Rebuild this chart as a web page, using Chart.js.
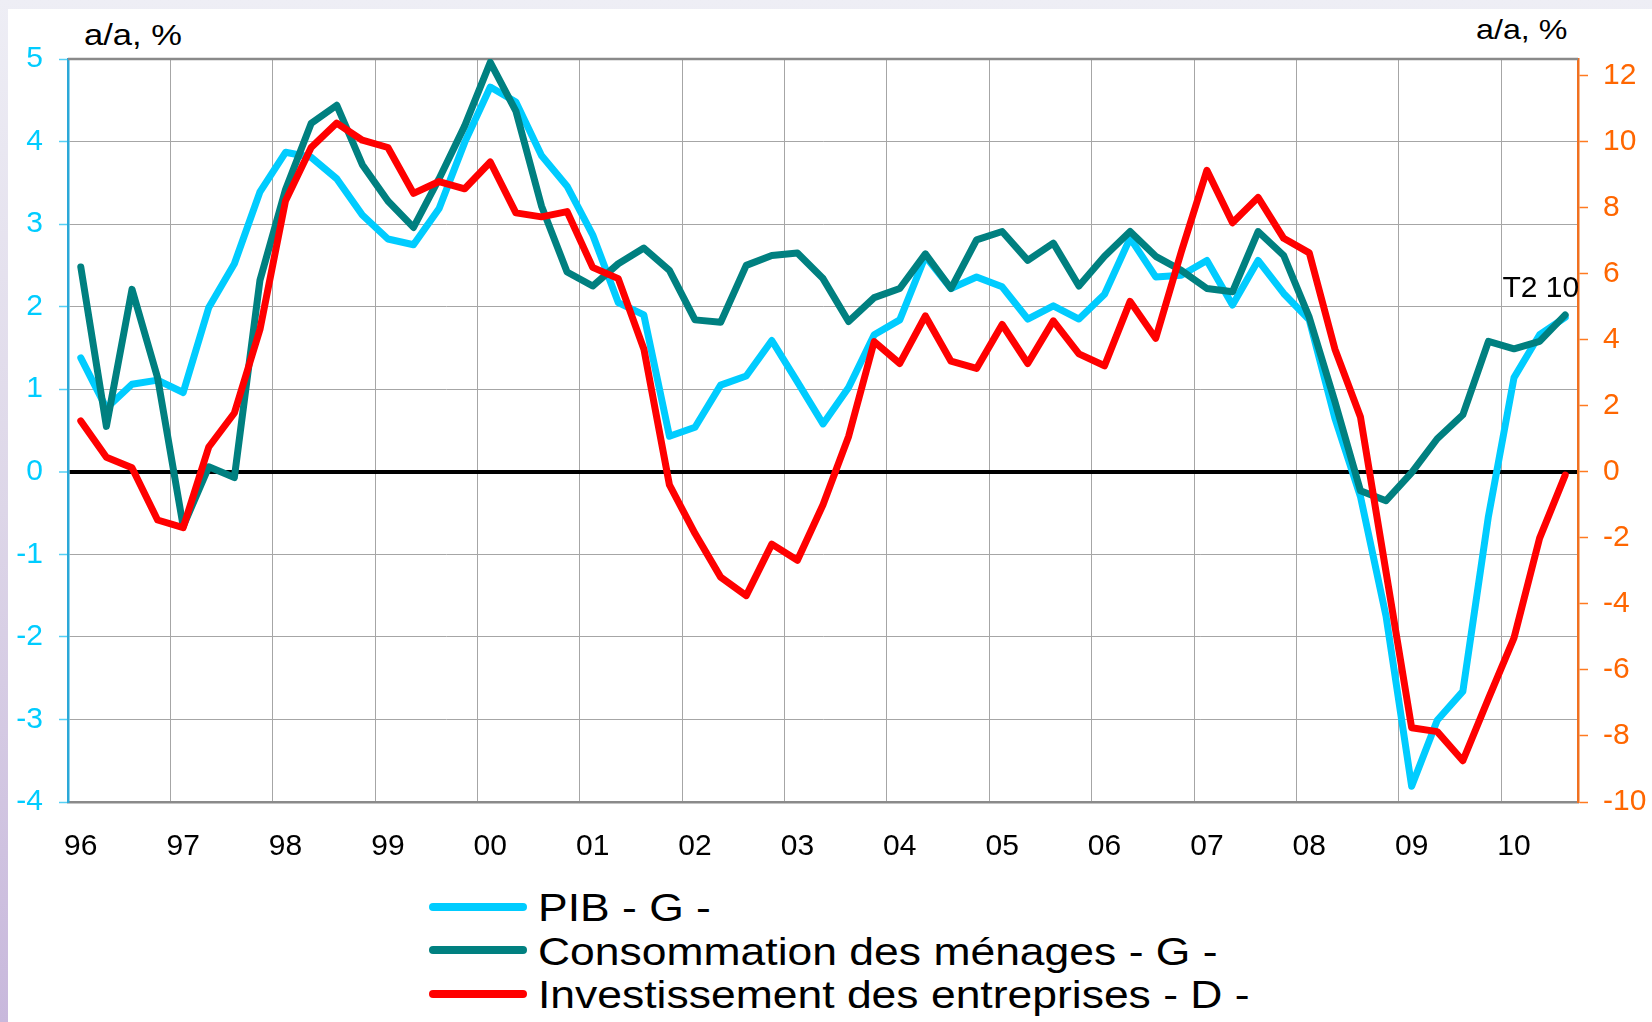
<!DOCTYPE html>
<html>
<head>
<meta charset="utf-8">
<script src="https://cdn.jsdelivr.net/npm/chart.js@4.4.1/dist/chart.umd.min.js"></script>
<style>
  body {
    margin: 0;
    width: 1652px;
    height: 1022px;
    overflow: hidden;
    background: linear-gradient(to bottom, #eeeef5 0%, #ddd6e8 50%, #c8b8dc 100%);
    font-family: 'Liberation Sans', Arial, sans-serif;
  }
  #wrap {
    position: absolute;
    left: 8px;
    top: 9px;
    width: 1644px;
    height: 1013px;
    background: #fff;
  }
  #chart { position: absolute; left: 0; top: 0; }
  .unit {
    position: absolute;
    color: #000;
    white-space: nowrap;
    transform: scaleX(1.15);
  }
  #unitLeft { left: 76px; top: 11px; font-size: 30px; line-height: 30px; transform-origin: left top; }
  #unitRight { right: 85px; top: 7px; font-size: 28px; line-height: 28px; transform-origin: right top; }
  #legend {
    position: absolute;
    left: 421px;
    top: 876px;
  }
  .row {
    display: flex;
    align-items: center;
    height: 43.5px;
  }
  .swatch {
    width: 98px;
    height: 8px;
    border-radius: 4px;
    flex: none;
  }
  .txt {
    margin-left: 11px;
    font-size: 38px;
    line-height: 43.5px;
    position: relative;
    top: 2px;
    white-space: nowrap;
    transform: scaleX(1.17);
    transform-origin: left center;
  }
</style>
</head>
<body>
<div id="wrap">
  <div class="unit" id="unitLeft">a/a, %</div>
  <div class="unit" id="unitRight">a/a, %</div>
  <canvas id="chart" width="1644" height="870"></canvas>
  <div id="legend"></div>
</div>
<script>
// quarterly data, 96 T1 .. 10 T3 (59 points)
const years = ['96', '97', '98', '99', '00', '01', '02', '03', '04', '05', '06', '07', '08', '09', '10'];

// PIB - G - (left axis)
const pib = [1.38, 0.77, 1.06, 1.11, 0.96, 1.99, 2.52, 3.39, 3.87, 3.81,
  3.55, 3.11, 2.82, 2.75, 3.19, 3.99, 4.66, 4.48, 3.83, 3.46,
  2.87, 2.05, 1.90, 0.43, 0.54, 1.05, 1.16, 1.59, 1.09, 0.58,
  1.02, 1.66, 1.84, 2.61, 2.22, 2.36, 2.24, 1.85, 2.01, 1.85,
  2.15, 2.83, 2.36, 2.38, 2.56, 2.02, 2.56, 2.16, 1.84, 0.65,
  -0.30, -1.75, -3.81, -3.01, -2.66, -0.54, 1.14, 1.66, 1.87];

// Consommation des ménages - G - (left axis)
const conso = [2.48, 0.55, 2.21, 1.14, -0.66, 0.06, -0.07, 2.32, 3.42, 4.22,
  4.44, 3.72, 3.28, 2.96, 3.55, 4.19, 4.96, 4.37, 3.22, 2.42,
  2.25, 2.52, 2.71, 2.44, 1.84, 1.81, 2.50, 2.62, 2.65, 2.34,
  1.82, 2.11, 2.22, 2.64, 2.22, 2.81, 2.91, 2.56, 2.77, 2.25,
  2.61, 2.91, 2.61, 2.44, 2.22, 2.18, 2.91, 2.62, 1.87, 0.85,
  -0.23, -0.35, -0.01, 0.40, 0.69, 1.58, 1.49, 1.58, 1.90];

// Investissement des entreprises - D - (right axis)
const invest = [1.54, 0.44, 0.12, -1.46, -1.69, 0.75, 1.78, 4.31, 8.21, 9.82,
  10.56, 10.04, 9.82, 8.43, 8.79, 8.57, 9.38, 7.84, 7.72, 7.88,
  6.19, 5.85, 3.72, -0.40, -1.87, -3.19, -3.75, -2.19, -2.68, -1.00,
  1.07, 3.94, 3.28, 4.72, 3.35, 3.13, 4.46, 3.28, 4.57, 3.57,
  3.21, 5.16, 4.04, 6.66, 9.13, 7.54, 8.31, 7.07, 6.63, 3.72,
  1.66, -3.04, -7.75, -7.87, -8.75, -6.87, -5.03, -2.01, -0.10];

// right axis tick values
const rightTicks = [-10, -8, -6, -4, -2, 0, 2, 4, 6, 8, 10, 12];

const endLabel = 'T2 10';

const quarters = [];
years.forEach(y => {
  for (let q = 1; q <= 4; q++) quarters.push(y + ' T' + q);
});
const labels = quarters.slice(0, pib.length);

Chart.defaults.font.family = "'Liberation Sans', Arial, sans-serif";

// top frame line + end label
const frame = {
  id: 'frame',
  beforeDatasetsDraw(chart) {
    const { ctx, chartArea } = chart;
    ctx.save();
    ctx.strokeStyle = '#8a8a8a';
    ctx.lineWidth = 2.5;
    ctx.beginPath();
    ctx.moveTo(chartArea.left, chartArea.top);
    ctx.lineTo(chartArea.right, chartArea.top);
    ctx.stroke();
    ctx.restore();
  },
  afterDatasetsDraw(chart) {
    const { ctx } = chart;
    const pts = chart.getDatasetMeta(1).data;
    const last = pts[pts.length - 1];
    ctx.save();
    ctx.fillStyle = '#000';
    ctx.font = "30px 'Liberation Sans', Arial, sans-serif";
    ctx.textAlign = 'right';
    ctx.textBaseline = 'alphabetic';
    ctx.fillText(endLabel, last.x + 14, last.y - 18);
    ctx.restore();
  }
};

const chart = new Chart(document.getElementById('chart'), {
  type: 'line',
  data: {
    labels: labels,
    datasets: [{
      label: 'PIB - G -',
      data: pib,
      yAxisID: 'y',
      borderColor: '#00ccff',
      order: 3
    }, {
      label: 'Consommation des ménages - G -',
      data: conso,
      yAxisID: 'y',
      borderColor: '#008080',
      order: 2
    }, {
      label: 'Investissement des entreprises - D -',
      data: invest,
      yAxisID: 'y2',
      borderColor: '#ff0000',
      order: 1
    }]
  },
  options: {
    responsive: false,
    animation: false,
    layout: { padding: { top: 50, left: 0, right: 0, bottom: 0 } },
    elements: {
      line: { borderWidth: 7, tension: 0, borderCapStyle: 'round', borderJoinStyle: 'round', fill: false },
      point: { radius: 0, hoverRadius: 0 }
    },
    plugins: {
      legend: { display: false },
      tooltip: { enabled: false }
    },
    scales: {
      x: {
        type: 'category',
        offset: true,
        grid: {
          offset: true,
          drawTicks: false,
          color: ctx => (ctx.index % 4 === 0 ? '#a6a6a6' : 'rgba(0,0,0,0)'),
          lineWidth: 1
        },
        border: { color: '#8a8a8a', width: 2.5 },
        ticks: {
          autoSkip: false,
          maxRotation: 0,
          color: '#000',
          font: { size: 30 },
          padding: 27,
          callback: (v, i) => (i % 4 === 0 ? years[i / 4] : '')
        },
        afterFit: s => { s.height = 77; }
      },
      y: {
        position: 'left',
        min: -4,
        max: 5,
        ticks: {
          stepSize: 1,
          color: '#00ccff',
          font: { size: 30 },
          padding: 16
        },
        grid: {
          color: ctx => (ctx.tick && ctx.tick.value === 0 ? '#000' : '#a6a6a6'),
          lineWidth: ctx => (ctx.tick && ctx.tick.value === 0 ? 4 : 1),
          tickColor: '#55d0f5',
          tickLength: 9,
          tickWidth: 1.5
        },
        border: { color: '#2aa8d8', width: 2.5 },
        afterFit: s => { s.width = 60; }
      },
      y2: {
        position: 'right',
        min: -10,
        max: 12.5,
        ticks: {
          color: '#ff6600',
          font: { size: 30 },
          padding: 15
        },
        afterBuildTicks: s => { s.ticks = rightTicks.map(v => ({ value: v })); },
        grid: {
          drawOnChartArea: false,
          tickColor: '#ff7a20',
          tickLength: 10,
          tickWidth: 1.5
        },
        border: { color: '#f07020', width: 2.5 },
        afterFit: s => { s.width = 74; }
      }
    }
  },
  plugins: [frame]
});

// html legend built from the datasets
const legend = document.getElementById('legend');
chart.data.datasets.forEach(ds => {
  const row = document.createElement('div');
  row.className = 'row';
  const sw = document.createElement('span');
  sw.className = 'swatch';
  sw.style.background = ds.borderColor;
  const tx = document.createElement('span');
  tx.className = 'txt';
  tx.textContent = ds.label;
  row.appendChild(sw);
  row.appendChild(tx);
  legend.appendChild(row);
});
</script>
</body>
</html>
